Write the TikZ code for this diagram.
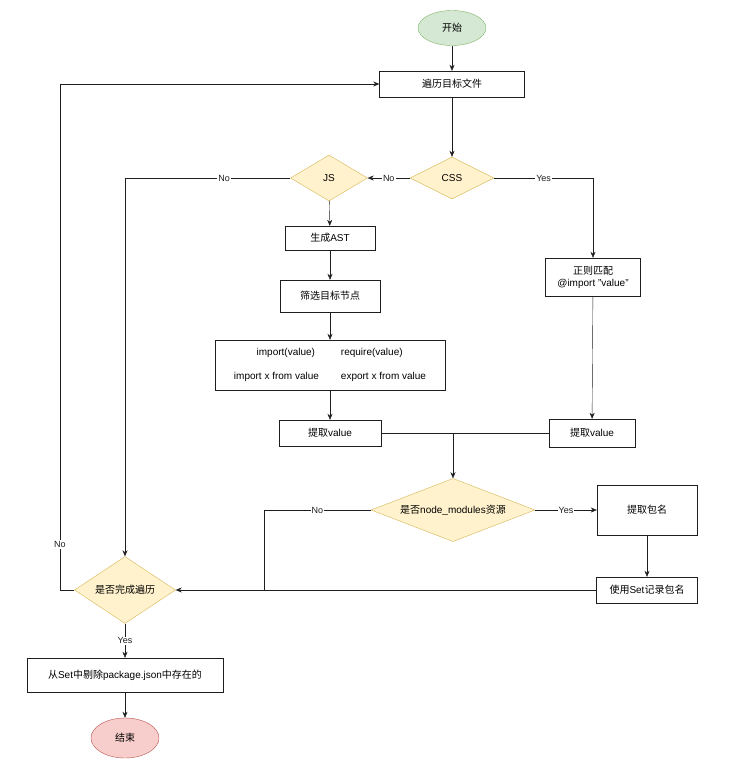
\documentclass[tikz,border=0pt]{standalone}
\usepackage{fontspec}
\setmainfont{Liberation Sans}
\newfontfamily\cjk{Noto Sans CJK SC}
% switch to the CJK face for Chinese characters
\XeTeXinterchartokenstate=1
\newXeTeXintercharclass\cjkcls
\count255="3000
\loop\ifnum\count255<"A000 \XeTeXcharclass\count255=\cjkcls \advance\count255 by 1 \repeat
\XeTeXinterchartoks 0 \cjkcls = {\cjk}
\XeTeXinterchartoks 4095 \cjkcls = {\cjk}
\XeTeXinterchartoks \cjkcls 0 = {\rmfamily}
\XeTeXinterchartoks 4095 0 = {\rmfamily}
\usetikzlibrary{arrows.meta,shapes.geometric}
\usepackage{xcolor}
\definecolor{okgreen}{RGB}{213,232,212}
\definecolor{okgreenline}{RGB}{130,179,102}
\definecolor{stopred}{RGB}{248,206,204}
\definecolor{stopredline}{RGB}{184,84,80}
\definecolor{askyellow}{RGB}{255,242,204}
\definecolor{askyellowline}{RGB}{214,182,86}
\definecolor{wire}{RGB}{30,30,30}

\tikzset{
	box/.style={draw=wire,fill=white,rectangle,inner sep=0pt,font=\fontsize{10}{12}\selectfont},
	ask/.style={draw=askyellowline,fill=askyellow,diamond,aspect=2,inner sep=0pt,font=\fontsize{10}{12}\selectfont},
	endpoint/.style={ellipse,inner sep=0pt,minimum width=68,minimum height=35,font=\fontsize{10}{12}\selectfont},
	flow/.style={-{Stealth[length=6pt,width=5pt]},wire,thin},
	tag/.style={fill=white,inner sep=1pt,font=\fontsize{9}{10}\selectfont},
}

\begin{document}
\begin{tikzpicture}[x=1pt,y=-1pt]
	\useasboundingbox (0,0) rectangle (732,765);
	\node(start) at (452,28)[endpoint,draw=okgreenline,fill=okgreen]{开始};
	\node(trav) at (452,84)[box,minimum width=145,minimum height=26]{遍历目标文件};
	\node(css) at (452,178)[ask,minimum width=84,minimum height=42]{CSS};
	\node(js) at (329,178)[ask,minimum width=77,minimum height=46]{JS};
	\node(regex) at (593,277)[box,minimum width=95,minimum height=38,align=center]{正则匹配\\@import "value"};
	\node(ast) at (330,238)[box,minimum width=90,minimum height=24]{生成AST};
	\node(filter) at (330,296)[box,minimum width=100,minimum height=32]{筛选目标节点};
	\node(big) at (330,365)[box,minimum width=230,minimum height=50]{%
		\begin{tabular}{@{}r@{\hspace{22pt}}l@{}}
			import(value)\hspace{4pt} & require(value)\\[12pt]
			import x from value & export x from value
		\end{tabular}};
	\node(valL) at (330,433)[box,minimum width=102,minimum height=26]{提取value};
	\node(valR) at (592,433)[box,minimum width=86,minimum height=28]{提取value};
	\node(nm) at (453,510)[ask,minimum width=164,minimum height=44]{是否node\_modules资源};
	\node(pkg) at (647,510)[box,minimum width=100,minimum height=50]{提取包名};
	\node(rec) at (647,590)[box,minimum width=101,minimum height=26]{使用Set记录包名};
	\node(done) at (125,590)[ask,minimum width=101,minimum height=67]{是否完成遍历};
	\node(del) at (125,675)[box,minimum width=196,minimum height=34]{从Set中剔除package.json中存在的};
	\node(fin) at (125,738)[endpoint,draw=stopredline,fill=stopred,minimum height=40]{结束};
	\coordinate(nmno) at (264,590);
	\coordinate(loop) at (60,590);

	\draw[flow](start) -- (trav);
	\draw[flow](trav) -- (css);
	\draw[flow](css) -- node[tag]{No} (js);
	\draw[flow](css.east) -| node[tag,pos=0.25]{Yes} (regex.north);
	\draw[flow](js.west) -| node[tag,pos=0.2]{No} (done.north);
	\draw[flow](js) -- (ast);
	\draw[flow](ast) -- (filter);
	\draw[flow](filter) -- (big);
	\draw[flow](big) -- (valL);
	\draw[flow](regex) -- (valR);
	\draw[wire,thin](valL.east) -- (valR.west);
	\draw[flow](valL.east -| nm.north) -- (nm.north);
	\draw[flow](nm) -- node[tag]{Yes} (pkg);
	\draw[flow](pkg) -- (rec);
	\draw[flow](rec) -- (done);
	\draw[wire,thin](nm.west) -| node[tag,pos=0.25]{No} (nmno);
	\draw[flow](done.west) -- (loop) |- node[tag,pos=0.045]{No} (trav.west);
	\draw[flow](done) -- node[tag]{Yes} (del);
	\draw[flow](del) -- (fin);
\end{tikzpicture}
\end{document}
